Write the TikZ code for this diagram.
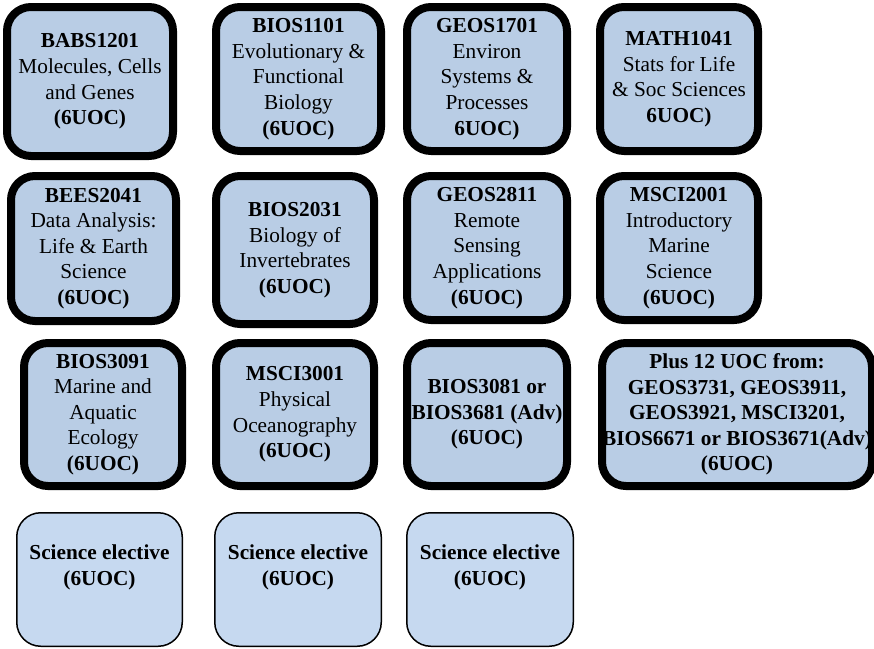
\documentclass[tikz,border=0pt]{standalone}
\usepackage{fontspec}
\setmainfont{Liberation Serif}
\definecolor{boxfill}{RGB}{185,205,229}
\definecolor{elecfill}{RGB}{198,217,240}
\tikzset{
  course/.style={draw=black, line width=8pt, fill=boxfill, rounded corners=24pt,
    align=center, inner sep=0pt, font=\fontsize{21.3}{25.6}\selectfont},
  elecbox/.style={draw=black, line width=1.5pt, fill=elecfill, rounded corners=24pt, inner sep=0pt},
  electext/.style={align=center, inner sep=0pt, font=\fontsize{21.3}{25.6}\selectfont\bfseries}
}
\begin{document}
\begin{tikzpicture}[x=1pt,y=-1pt]
\useasboundingbox (0,0) rectangle (874,648);
% row 1
\node[course, minimum width=166pt, minimum height=149pt] (babs) at (90,81.5)
  {\textbf{BABS1201}\\Molecules, Cells\\and Genes\\\textbf{(6UOC)}};
\node[course, minimum width=165pt, minimum height=144pt] (bios1101) at (298.5,79)
  {\textbf{BIOS1101}\\Evolutionary \&\\Functional\\Biology\\\textbf{(6UOC)}};
\node[course, minimum width=160pt, minimum height=144pt] (geos1701) at (487,79)
  {\textbf{GEOS1701}\\Environ\\Systems \&\\Processes\\\textbf{6UOC)}};
\node[course, minimum width=158pt, minimum height=144pt] (math1041) at (679,79)
  {\textbf{MATH1041}\\Stats for Life\\\& Soc Sciences\\\textbf{6UOC)}};
% row 2
\node[course, minimum width=165pt, minimum height=145pt] (bees2041) at (93.5,248.5)
  {\textbf{BEES2041}\\Data Analysis:\\Life \& Earth\\Science\\\textbf{(6UOC)}};
\node[course, minimum width=158pt, minimum height=148pt] (bios2031) at (295,250)
  {\textbf{BIOS2031}\\Biology of\\Invertebrates\\\textbf{(6UOC)}};
\node[course, minimum width=160pt, minimum height=144pt] (geos2811) at (487,248)
  {\textbf{GEOS2811}\\Remote\\Sensing\\Applications\\\textbf{(6UOC)}};
\node[course, minimum width=158pt, minimum height=144pt] (msci2001) at (679,248)
  {\textbf{MSCI2001}\\Introductory\\Marine\\Science\\\textbf{(6UOC)}};
% row 3
\node[course, minimum width=158pt, minimum height=143pt] (bios3091) at (103,414.5)
  {\textbf{BIOS3091}\\Marine and\\Aquatic\\Ecology\\\textbf{(6UOC)}};
\node[course, minimum width=158pt, minimum height=143pt] (msci3001) at (295,414.5)
  {\textbf{MSCI3001}\\Physical\\Oceanography\\\textbf{(6UOC)}};
\node[course, minimum width=160pt, minimum height=143pt] (bios3081) at (487,414.5)
  {\bfseries BIOS3081 or\\\bfseries BIOS3681 (Adv)\\\bfseries (6UOC)};
\node[course, minimum width=270pt, minimum height=143pt] (plus12) at (737,414.5)
  {\bfseries Plus 12 UOC from:\\\bfseries GEOS3731, GEOS3911,\\\bfseries GEOS3921, MSCI3201,\\\bfseries BIOS6671 or BIOS3671(Adv)\\\bfseries (6UOC)};
% row 4
\node[elecbox, minimum width=165.5pt, minimum height=133.5pt] (elec1) at (99.5,579.5) {};
\node[elecbox, minimum width=166.5pt, minimum height=133.5pt] (elec2) at (298,579.5) {};
\node[elecbox, minimum width=166.5pt, minimum height=133.5pt] (elec3) at (490,579.5) {};
\node[electext] (elec1t) at ([yshift=12pt]elec1.center) {Science elective\\(6UOC)};
\node[electext] (elec2t) at ([yshift=12pt]elec2.center) {Science elective\\(6UOC)};
\node[electext] (elec3t) at ([yshift=12pt]elec3.center) {Science elective\\(6UOC)};
\end{tikzpicture}
\end{document}
